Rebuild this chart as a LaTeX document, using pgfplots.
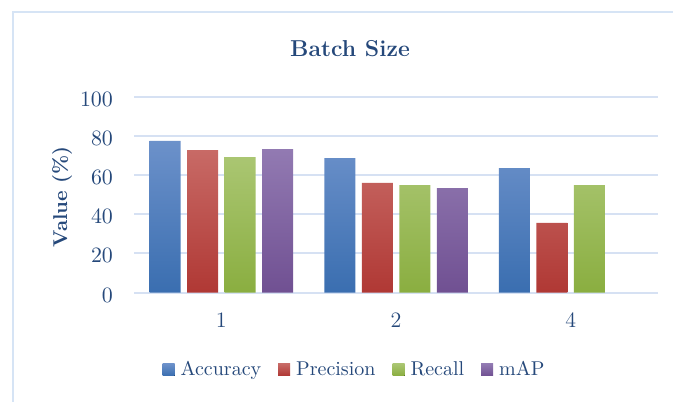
\documentclass[border=0pt]{standalone}
\usepackage{pgfplots}
\pgfplotsset{compat=1.18}
\definecolor{txt}{RGB}{37,72,122}
\definecolor{gridc}{RGB}{214,225,243}
\definecolor{framec}{RGB}{214,228,245}
\definecolor{accT}{RGB}{108,145,202}
\definecolor{accM}{RGB}{74,128,196}
\definecolor{accB}{RGB}{58,110,176}
\definecolor{preT}{RGB}{200,106,102}
\definecolor{preM}{RGB}{196,76,72}
\definecolor{preB}{RGB}{176,56,52}
\definecolor{recT}{RGB}{170,198,114}
\definecolor{recM}{RGB}{156,190,86}
\definecolor{recB}{RGB}{138,174,64}
\definecolor{mapT}{RGB}{146,122,178}
\definecolor{mapM}{RGB}{128,98,162}
\definecolor{mapB}{RGB}{112,80,146}
\begin{document}
\begin{tikzpicture}
\path[use as bounding box] (0,0) rectangle (336.5pt,200.5pt);
\draw[framec, line width=1pt] (6.25pt,-2pt) -- (6.25pt,194.25pt) -- (345pt,194.25pt);
\begin{axis}[
  at={(67pt,54.15pt)}, anchor=south west,
  scale only axis, width=262pt, height=98pt,
  xmin=-0.5, xmax=2.5, ymin=0, ymax=100,
  ytick={0,20,40,60,80,100},
  xtick={0,1,2}, xticklabels={1,2,4},
  axis line style={draw=none},
  major tick length=0pt,
  ymajorgrids, xmajorgrids=false,
  major grid style={draw=gridc, line width=1pt},
  ybar=3.25pt, bar width=15.5pt,
  tick label style={color=txt, font=\fontsize{11}{13}\selectfont},
  yticklabel style={anchor=east, inner sep=0pt, xshift=-10.35pt, yshift=-1.2pt},
  xticklabel style={anchor=north, inner sep=0pt, yshift=-10pt},
  ylabel={Value (\%)},
  ylabel style={at={(rel axis cs:-0.137,0.49)}, anchor=center, color=txt, font=\bfseries},
  every axis title shift=0pt,
  title={Batch Size},
  title style={at={(rel axis cs:0.4122,1.245)}, anchor=center, color=txt, font=\fontsize{11.5}{13}\selectfont\bfseries},
  legend columns=4,
  legend style={draw=none, fill=none, at={(0.4218,-0.393)}, anchor=center,
    font=\normalsize, text=txt,
    /tikz/every even column/.append style={column sep=7pt},
    /tikz/every odd column/.append style={column sep=1.5pt},
    nodes={inner sep=1.5pt}},
  legend image code/.code={\fill[#1] (0pt,-3pt) rectangle (6pt,3pt);},
]
\addplot[draw=none, top color=accT, middle color=accM, bottom color=accB] coordinates {(0,77.4) (1,68.7) (2,63.6)};
\addplot[draw=none, top color=preT, middle color=preM, bottom color=preB] coordinates {(0,72.8) (1,56.0) (2,35.6)};
\addplot[draw=none, top color=recT, middle color=recM, bottom color=recB] coordinates {(0,69.2) (1,54.9) (2,54.9)};
\addplot[draw=none, top color=mapT, middle color=mapM, bottom color=mapB] coordinates {(0,73.3) (1,53.4)};
\legend{Accuracy,Precision,Recall,mAP}
\end{axis}
\end{tikzpicture}
\end{document}
